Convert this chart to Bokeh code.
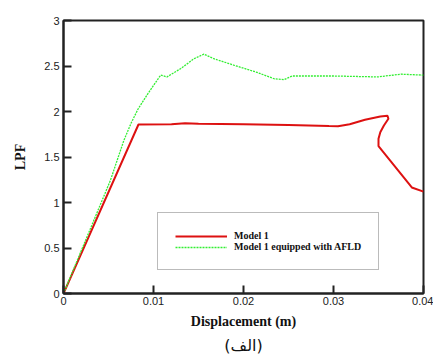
from bokeh.plotting import figure
from bokeh.models import Range1d, FixedTicker, Legend, LegendItem, Title
from bokeh.embed import file_html
from bokeh.resources import INLINE

# Load-proportionality factor vs. displacement
model1_x = [0, 0.00833, 0.012, 0.0135, 0.015, 0.020, 0.025, 0.0295, 0.0305,
            0.0318, 0.0335, 0.0352, 0.0360, 0.0361, 0.0356, 0.0352, 0.0350,
            0.0350, 0.0387, 0.0400]
model1_y = [0, 1.857, 1.86, 1.87, 1.865, 1.86, 1.853, 1.84, 1.838,
            1.86, 1.91, 1.945, 1.953, 1.92, 1.846, 1.773, 1.70,
            1.62, 1.165, 1.12]

afld_x = [0, 0.0052, 0.0067, 0.0075, 0.0083, 0.0094, 0.0108, 0.0115, 0.013,
          0.0145, 0.0156, 0.0167, 0.0189, 0.0215, 0.0234, 0.0245, 0.0254,
          0.030, 0.0349, 0.0375, 0.040]
afld_y = [0, 1.24, 1.68, 1.87, 2.03, 2.20, 2.40, 2.38, 2.47,
          2.58, 2.63, 2.58, 2.51, 2.43, 2.36, 2.35, 2.39,
          2.39, 2.38, 2.41, 2.40]

x_ticks = [0, 0.01, 0.02, 0.03, 0.04]
y_ticks = [0, 0.5, 1, 1.5, 2, 2.5, 3]

p = figure(width=433, height=356, output_backend="svg", toolbar_location=None,
           x_range=Range1d(0, 0.04), y_range=Range1d(0, 3),
           min_border_left=63, min_border_right=10, min_border_top=20,
           min_border_bottom=0)
p.grid.visible = False
p.outline_line_color = "#222222"
p.outline_line_width = 2
p.background_fill_color = "white"
p.border_fill_color = "white"

for ax, ticks in ((p.xaxis, x_ticks), (p.yaxis, y_ticks)):
    ax.ticker = FixedTicker(ticks=ticks)
    ax.minor_tick_line_color = None
    ax.major_tick_in = 8
    ax.major_tick_out = 0
    ax.major_tick_line_width = 2
    ax.major_tick_line_color = "#222222"
    ax.axis_line_width = 2
    ax.axis_line_color = "#222222"
    ax.major_label_text_font = "Liberation Sans"
    ax.major_label_text_font_size = "11px"
    ax.major_label_text_color = "#222222"
    ax.axis_label_text_font = "Liberation Serif"
    ax.axis_label_text_font_style = "bold"
    ax.axis_label_text_font_size = "14px"
    ax.axis_label_text_color = "#111111"

p.xaxis.axis_label = "Displacement (m)"
p.yaxis.axis_label = "LPF"
p.xaxis.major_label_standoff = 3
p.yaxis.major_label_standoff = 4
p.xaxis.axis_label_standoff = 6
p.yaxis.axis_label_standoff = 13

r1 = p.line(model1_x, model1_y, line_color="#dd1111", line_width=2)
r2 = p.line(afld_x, afld_y, line_color="#33ee33", line_width=1.3,
            line_dash="2 1")

legend = Legend(items=[LegendItem(label="Model 1", renderers=[r1]),
                       LegendItem(label="Model 1 equipped with AFLD", renderers=[r2])],
                location=(94, 23), padding=17, margin=0, spacing=0,
                glyph_width=52, glyph_height=10, label_height=10,
                label_standoff=7,
                label_text_font="Liberation Serif", label_text_font_style="bold",
                label_text_font_size="10px", label_text_color="#111111",
                border_line_color="#777777", border_line_width=1,
                background_fill_color="white", background_fill_alpha=1)
p.add_layout(legend)

p.add_layout(Title(text="(الف)", align="center", text_font="DejaVu Sans",
                   text_font_size="16px", text_font_style="normal",
                   text_color="#111111", standoff=4), "below")

open("out.html", "w").write(file_html(p, INLINE))
